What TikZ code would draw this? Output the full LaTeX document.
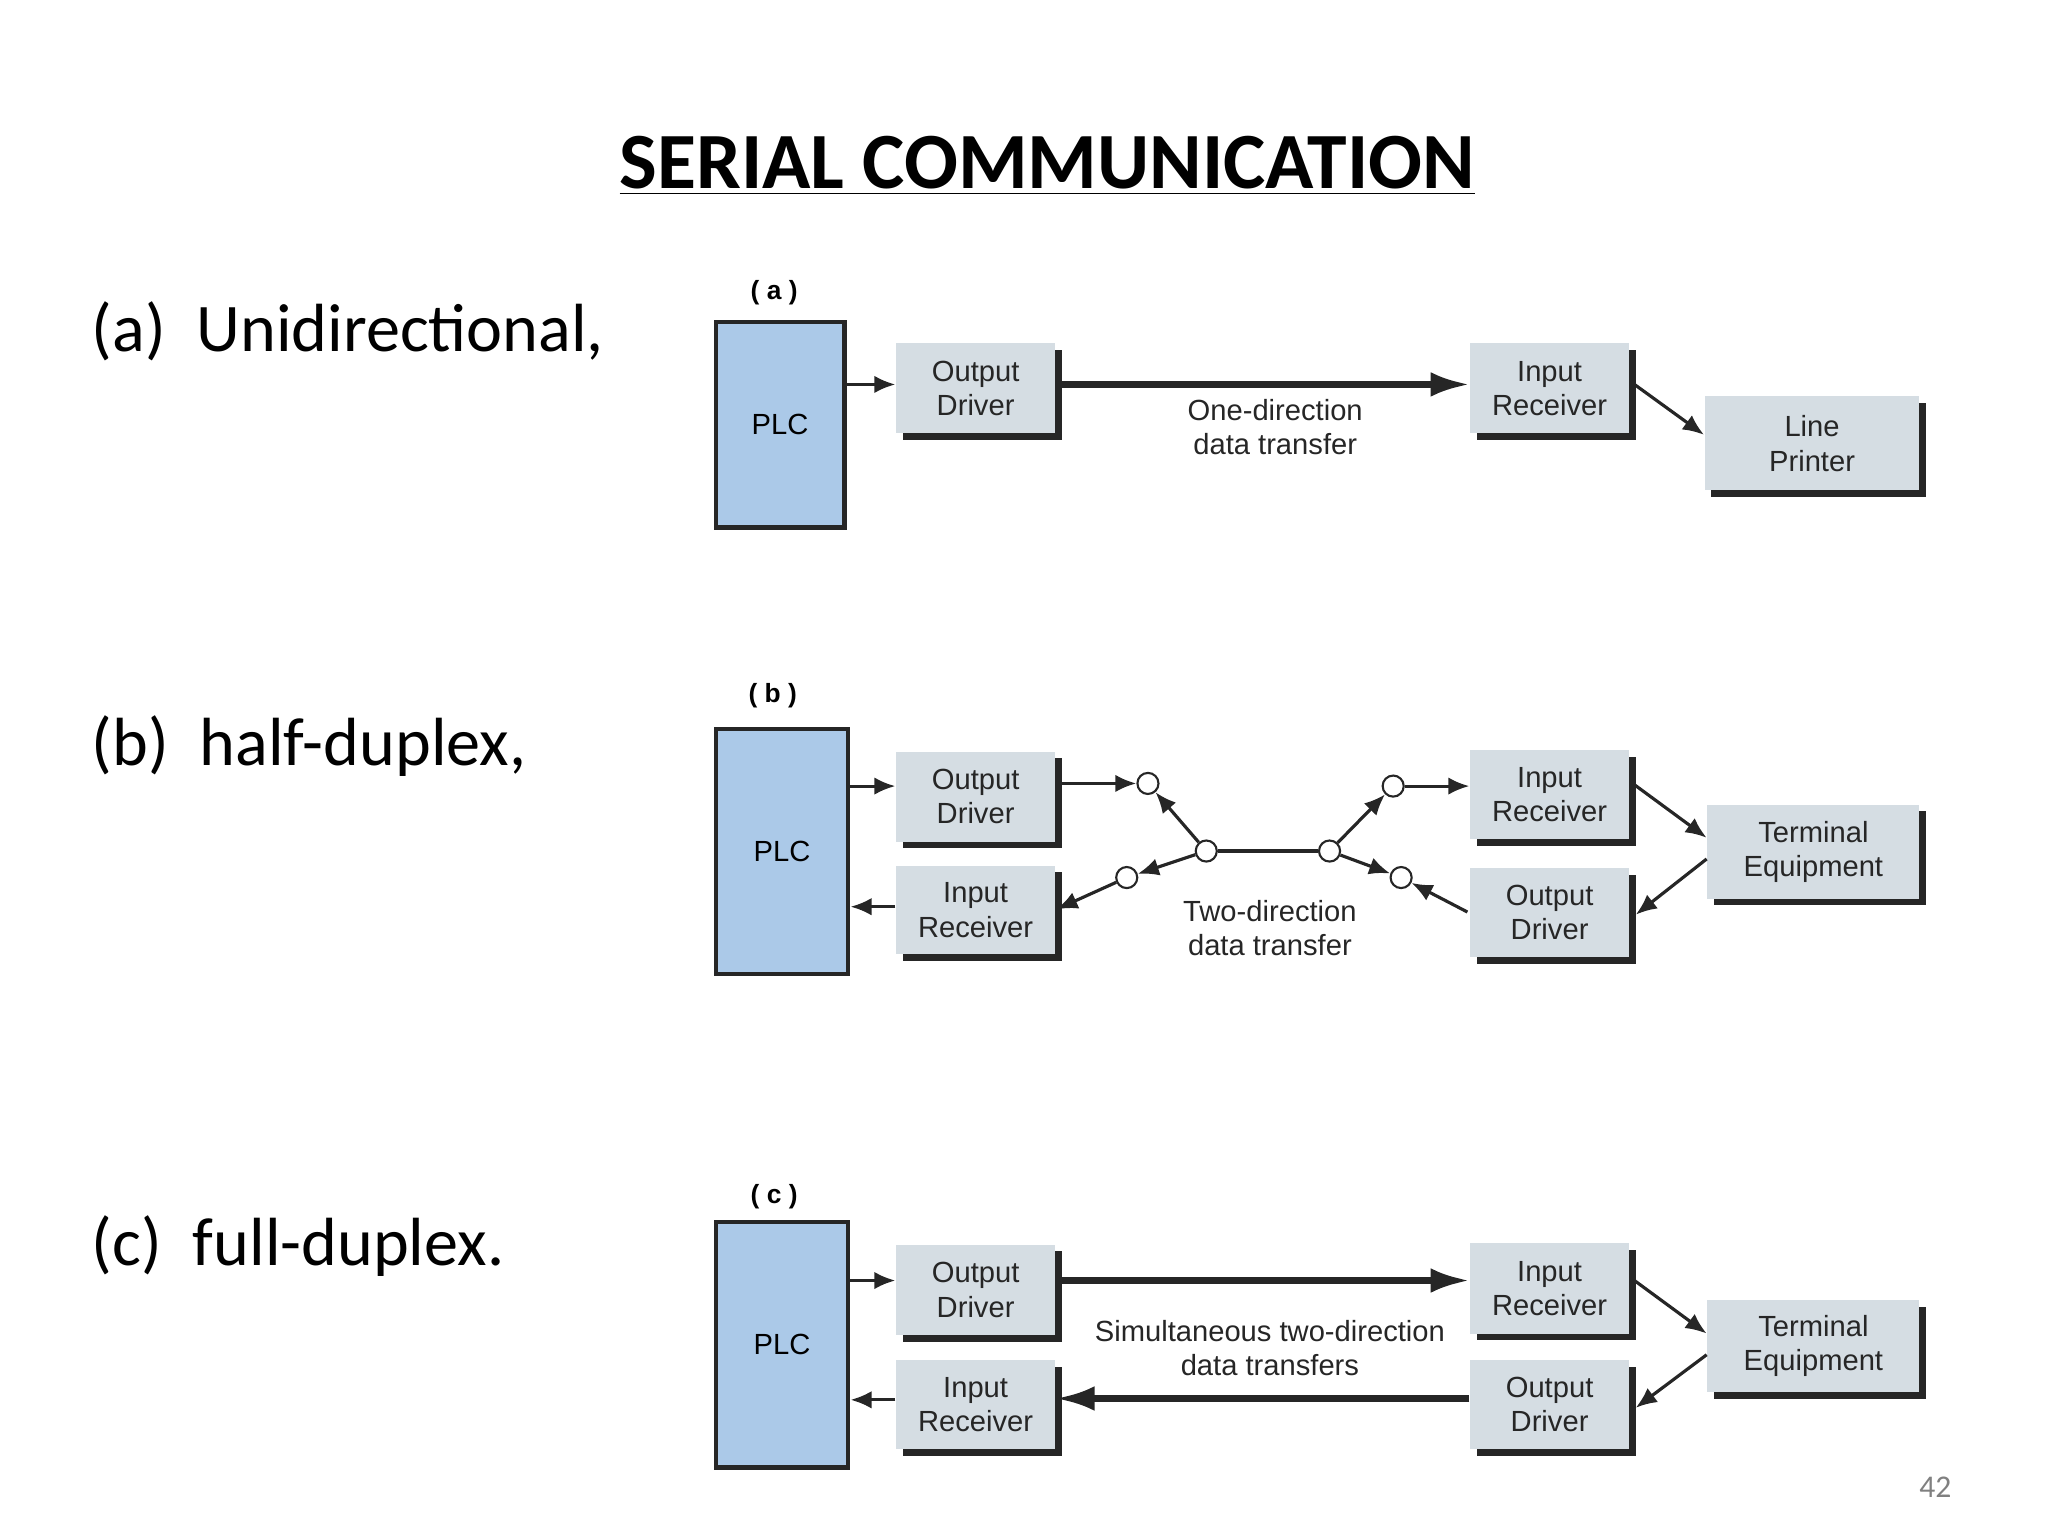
\documentclass[tikz,border=0pt]{standalone}
\usepackage{fontspec}
\setmainfont{Liberation Sans}
\newfontfamily\carl{Carlito}
\usetikzlibrary{arrows.meta,shadows}
\definecolor{boxc}{HTML}{D5DDE3}
\definecolor{plcc}{HTML}{ABC9E8}
\newcommand\bx[6]{\node[box,minimum width={(#4-#2)*0.013256cm},minimum height={(#5-#3)*0.013256cm}] (#1) at ({(#2+#4)/2},{(#3+#5)/2}) {#6};}
\newcommand\plcbox[5]{\node[plc,minimum width={(#4-#2)*0.013256cm},minimum height={(#5-#3)*0.013256cm}] (#1) at ({(#2+#4)/2},{(#3+#5)/2}) {PLC};}
\begin{document}
\begin{tikzpicture}[x=0.013256cm,y=-0.013256cm,
 box/.style={fill=boxc,draw=none,inner sep=0pt,align=center,font=\fontsize{8.3}{9.8}\selectfont,text=black!85,
   drop shadow={shadow xshift=1.9pt,shadow yshift=-1.9pt,fill=black!85,opacity=1}},
 plc/.style={fill=plcc,draw=black!85,line width=1.2pt,inner sep=0pt,font=\fontsize{8.3}{10}\selectfont},
 arr/.style={-{Latex[length=6pt,width=5pt]},line width=0.9pt,black!85},
 big/.style={-{Latex[length=11pt,width=7pt]},line width=1.8pt,black!85},
 sw/.style={circle,draw=black!85,fill=white,line width=0.6pt,inner sep=0pt,minimum size=6pt},
 lab/.style={align=center,font=\fontsize{8.3}{9.8}\selectfont,text=black!85},
 sec/.style={font=\bfseries\fontsize{7.5}{9}\selectfont},
 side/.style={anchor=west,font=\carl\fontsize{19.4}{22}\selectfont}]
\useasboundingbox (0,0) rectangle (1545,1159);
\node (title) at (790,125) {\carl\bfseries\fontsize{22.7}{27}\selectfont\underline{SERIAL COMMUNICATION}};
\node[side] (la) at (60,250) {(a)\ \ Unidirectional,};
\node[side] (lb) at (60,563) {(b)\ \ half-duplex,};
\node[side] (lc) at (60,940) {(c)\ \ full-duplex.};
\node[text=gray,font=\carl\fontsize{9}{10}\selectfont] (pg) at (1460,1122) {42};
% (a)
\node[sec] (sa) at (584,221) {( a )};
\plcbox{plca}{540}{243}{637}{398}
\bx{oda}{676}{259}{796}{327}{Output\\Driver}
\bx{ira}{1109}{259}{1229}{327}{Input\\Receiver}
\bx{lp}{1286}{299}{1448}{370}{Line\\Printer}
\draw[arr] (plca.east |- 0,290) -- (oda.west |- 0,290);
\draw[big] (oda.east |- 0,290) -- (ira.west |- 0,290);
\node[lab] (ta) at (962,322) {One-direction\\data transfer};
\draw[arr] (1233,290) -- (lp.west |- 0,328);
% (b)
\node[sec] (sb) at (583,525) {( b )};
\plcbox{plcb}{540}{550}{640}{735}
\bx{odb}{676}{567}{796}{635}{Output\\Driver}
\bx{irb}{676}{653}{796}{720}{Input\\Receiver}
\bx{irb2}{1109}{566}{1229}{633}{Input\\Receiver}
\bx{odb2}{1109}{655}{1229}{722}{Output\\Driver}
\bx{teb}{1288}{607}{1448}{678}{Terminal\\Equipment}
\node[sw] (c1) at (866,591) {};
\node[sw] (c2) at (910,642) {};
\node[sw] (c3) at (1003,642) {};
\node[sw] (c4) at (1051,593) {};
\node[sw] (c5) at (850,662) {};
\node[sw] (c6) at (1057,662) {};
\draw[arr] (plcb.east |- 0,593) -- (odb.west |- 0,593);
\draw[arr] (irb.west |- 0,684) -- (plcb.east |- 0,684);
\draw[arr] (odb.east |- c1) -- (c1);
\draw[arr] (c2) -- (c1);
\draw[line width=0.9pt,black!85] (c2) -- (c3);
\draw[arr] (c3) -- (c4);
\draw[arr] (c4) -- (irb2.west |- c4);
\draw[arr] (c2) -- (c5);
\draw[arr] (c5) -- (797,686);
\draw[arr] (c3) -- (c6);
\draw[arr] (1107,688) -- (c6);
\node[lab] (tb) at (958,700) {Two-direction\\data transfer};
\draw[arr] (1233,592) -- (teb.west |- 0,632);
\draw[arr] (teb.west |- 0,648) -- (1234,690);
% (c)
\node[sec] (sc) at (584,903) {( c )};
\plcbox{plcc}{540}{922}{640}{1107}
\bx{odc}{676}{939}{796}{1007}{Output\\Driver}
\bx{irc}{676}{1026}{796}{1093}{Input\\Receiver}
\bx{irc2}{1109}{938}{1229}{1006}{Input\\Receiver}
\bx{odc2}{1109}{1026}{1229}{1093}{Output\\Driver}
\bx{tec}{1288}{981}{1448}{1050}{Terminal\\Equipment}
\draw[arr] (plcc.east |- 0,966) -- (odc.west |- 0,966);
\draw[arr] (irc.west |- 0,1056) -- (plcc.east |- 0,1056);
\draw[big] (odc.east |- 0,966) -- (irc2.west |- 0,966);
\draw[big] (odc2.west |- 0,1055) -- (irc.east |- 0,1055);
\node[lab] (tc) at (958,1017) {Simultaneous two-direction\\data transfers};
\draw[arr] (1233,966) -- (tec.west |- 0,1006);
\draw[arr] (tec.west |- 0,1022) -- (1234,1062);
\end{tikzpicture}
\end{document}
